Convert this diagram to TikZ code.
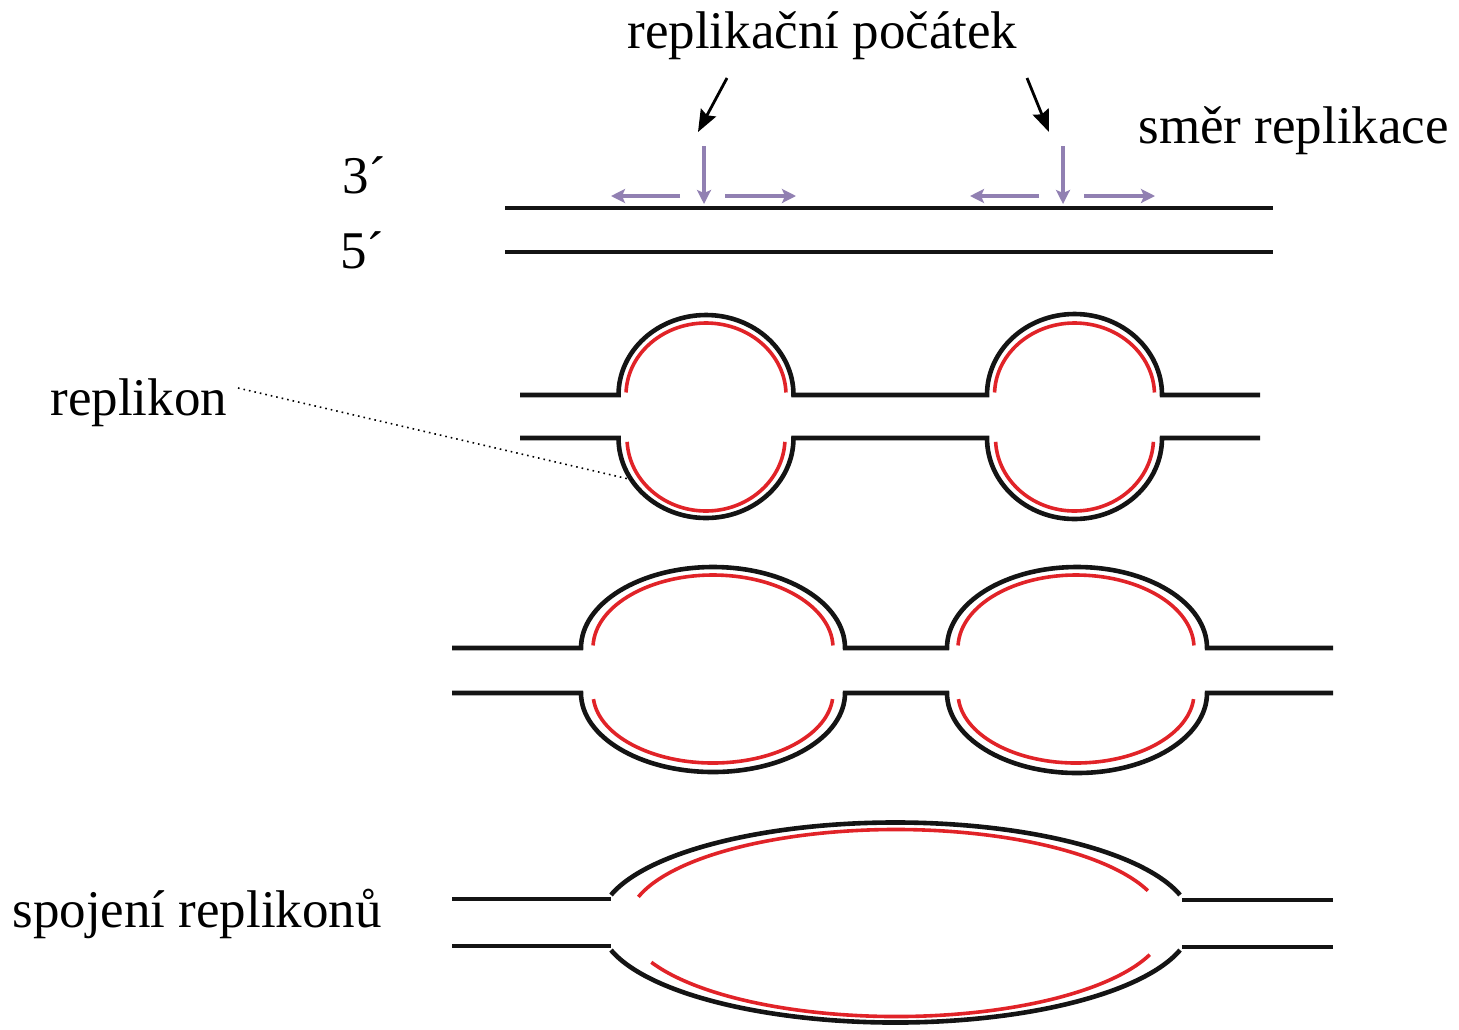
\documentclass[tikz,border=0pt]{standalone}
\usepackage{fontspec}
\setmainfont{Liberation Serif}
\usepackage{tikz}
\usetikzlibrary{arrows.meta}
\definecolor{dnablack}{RGB}{20, 20, 20}
\definecolor{dnared}{RGB}{225, 35, 40}
\definecolor{smer}{RGB}{145, 128, 178}

\tikzset{
  vlakno/.style={dnablack, line width=2.3pt},
  replika/.style={dnared, line width=1.8pt},
  smerarrow/.style={smer, line width=1.9pt, -{Stealth[length=7pt, width=7pt, inset=1.5pt]}},
  popis/.style={anchor=base west, inner sep=0pt, font=\fontsize{26.5}{30}\selectfont},
}

\begin{document}
\begin{tikzpicture}[x=0.5pt, y=0.5pt]
\useasboundingbox (0,0) rectangle (1459,-1029);

% labels
\node[popis] (origin) at (627,-48) {replikační počátek};
\node[popis] (smerlab) at (1138,-143) {směr replikace};
\node[popis] (tri) at (342,-193) {3´};
\node[popis] (pet) at (340,-268) {5´};
\node[popis] (replikon) at (50,-415) {replikon};
\node[popis] (spojeni) at (12,-927) {spojení replikonů};

% arrows from the label down to the two origins
\coordinate (o1from) at (727,-78);  \coordinate (o1to) at (698,-132);
\coordinate (o2from) at (1027,-78); \coordinate (o2to) at (1049,-132);
\draw[line width=1.4pt, -{Stealth[length=11pt, width=8.5pt, inset=1.5pt]}] (o1from) -- (o1to);
\draw[line width=1.4pt, -{Stealth[length=11pt, width=8.5pt, inset=1.5pt]}] (o2from) -- (o2to);

% direction of replication at each origin
\foreach \ox in {704,1063} {
  \draw[smerarrow] (\ox,-146) -- (\ox,-204);
  \draw[smerarrow] (\ox-24,-196) -- (\ox-93,-196);
  \draw[smerarrow] (\ox+21,-196) -- (\ox+92,-196);
}

% parental DNA
\draw[vlakno] (505,-208) -- (1273,-208);
\draw[vlakno] (505,-252) -- (1273,-252);

% two replicons
\draw[vlakno] (520,-395) -- (618.5,-395) arc[start angle=180, end angle=0, x radius=87.5, y radius=80]
  -- (987,-395) arc[start angle=180, end angle=0, x radius=87.5, y radius=81] -- (1260,-395);
\draw[vlakno] (520,-438) -- (618.5,-438) arc[start angle=180, end angle=360, x radius=87.5, y radius=80]
  -- (987,-438) arc[start angle=180, end angle=360, x radius=87.5, y radius=81] -- (1260,-438);
\foreach \cx in {706,1074.5} {
  \draw[replika] (\cx,-395) ++(178:80 and 72) arc[start angle=178, end angle=2, x radius=80, y radius=72];
  \draw[replika] (\cx,-438) ++(183:79 and 73) arc[start angle=183, end angle=357, x radius=79, y radius=73];
}
\coordinate (rep1) at (633,-480);
\draw[dotted, line width=0.8pt] (238,-388) -- (rep1);

% replicons growing
\draw[vlakno] (452,-648) -- (581,-648) arc[start angle=180, end angle=0, x radius=132, y radius=81]
  -- (947,-648) arc[start angle=180, end angle=0, x radius=130, y radius=81] -- (1333,-648);
\draw[vlakno] (452,-693) -- (581,-693) arc[start angle=180, end angle=360, x radius=132, y radius=79]
  -- (947,-693) arc[start angle=180, end angle=360, x radius=130, y radius=80] -- (1333,-693);
\foreach \cx/\rx in {713/120,1076/118} {
  \draw[replika] (\cx,-648) ++(178:{\rx} and 73) arc[start angle=178, end angle=2, x radius=\rx, y radius=73];
  \draw[replika] (\cx,-693) ++(185:{\rx} and 70) arc[start angle=185, end angle=355, x radius=\rx, y radius=70];
}

% replicons joined
\draw[vlakno] (452,-899) -- (611,-899);
\draw[vlakno] (452,-946) -- (611,-946);
\draw[vlakno] (1182,-900) -- (1333,-900);
\draw[vlakno] (1182,-947) -- (1333,-947);
\draw[vlakno] (895.5,-922.5) ++(164:296 and 100) arc[start angle=164, end angle=16, x radius=296, y radius=100];
\draw[vlakno] (895.5,-922.5) ++(196:296 and 100) arc[start angle=196, end angle=344, x radius=296, y radius=100];
\draw[replika] (896,-922.5) ++(164:268 and 93) arc[start angle=164, end angle=20, x radius=268, y radius=93];
\draw[replika] (896,-922.5) ++(205:270 and 94) arc[start angle=205, end angle=340, x radius=270, y radius=94];
\end{tikzpicture}
\end{document}
